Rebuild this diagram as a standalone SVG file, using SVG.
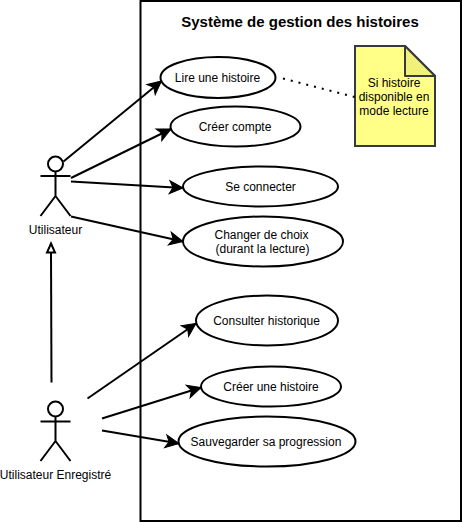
<svg xmlns="http://www.w3.org/2000/svg" width="462" height="522" viewBox="0 0 462 522">
<defs>
<marker id="arr" markerUnits="userSpaceOnUse" markerWidth="20" markerHeight="20" refX="15" refY="10" orient="auto" viewBox="0 0 20 20"><path d="M1.500 3.500L15 10L1.500 16.500L5 10Z" fill="#000" stroke="#000" stroke-linejoin="miter"/></marker>
</defs>
<style>
text{font-family:"Liberation Sans",Arial,sans-serif;font-size:12px;fill:#000;text-anchor:middle}
.e{fill:#fff;stroke:#000;stroke-width:2}
.a{fill:none;stroke:#000;stroke-width:2}
.l{fill:none;stroke:#000;stroke-width:2}
</style>
<g id="system"><rect x="140.500" y="1" width="320.500" height="520" fill="#fff" stroke="#000" stroke-width="2"/><text x="300" y="27" style="font-size:15px;font-weight:bold">Système de gestion des histoires</text></g>
<g id="uc1"><ellipse class="e" cx="218" cy="77.500" rx="57.500" ry="20.500"/><text x="217.500" y="82">Lire une histoire</text></g>
<g id="uc2"><ellipse class="e" cx="235.500" cy="126.500" rx="65" ry="20"/><text x="235" y="131">Créer compte</text></g>
<g id="uc3"><ellipse class="e" cx="260.500" cy="186.500" rx="77.500" ry="20"/><text x="260.500" y="191">Se connecter</text></g>
<g id="uc4"><ellipse class="e" cx="263" cy="241.500" rx="80" ry="25"/><text x="261.500" y="239">Changer de choix</text><text x="262.500" y="253">(durant la lecture)</text></g>
<g id="uc5"><ellipse class="e" cx="267" cy="320.500" rx="71" ry="25"/><text x="266.500" y="325">Consulter historique</text></g>
<g id="uc6"><ellipse class="e" cx="271" cy="386.500" rx="70" ry="20"/><text x="271" y="391">Créer une histoire</text></g>
<g id="uc7"><ellipse class="e" cx="267" cy="441.500" rx="88.500" ry="25"/><text x="266" y="446">Sauvegarder sa progression</text></g>
<g id="note"><path d="M355 46H405L435 76V146H355Z" fill="#ffff88" stroke="#36393d" stroke-width="2"/><path d="M405 46V76H435Z" fill="#f0f07a" stroke="#36393d" stroke-width="2" stroke-linejoin="round"/><text x="394" y="87">Si histoire</text><text x="394" y="101">disponible en</text><text x="394" y="115">mode lecture</text></g>
<g id="actor1"><circle class="e" cx="55.500" cy="164" r="7.500"/><path class="a" d="M55.500 171.500V196M40.500 176H70.500M55.500 196L40.500 216M55.500 196L70.500 216"/><text x="55.500" y="234">Utilisateur</text></g>
<g id="actor2"><circle class="e" cx="55.500" cy="409" r="7.500"/><path class="a" d="M55.500 416.500V441M40.500 421.500H70.500M55.500 441L40.500 461M55.500 441L70.500 461"/><text x="55.500" y="479">Utilisateur Enregistré</text></g>
<g id="connectors">
<path class="l" marker-end="url(#arr)" d="M63.500 161.500L161.500 81"/>
<path class="l" marker-end="url(#arr)" d="M71 178L171 129"/>
<path class="l" marker-end="url(#arr)" d="M71 181.500L183 188"/>
<path class="l" marker-end="url(#arr)" d="M71 216.500L183 241.500"/>
<path class="a" d="M51.500 382.500L51 252"/>
<path d="M51 243.500L55 252.500L47 252.500Z" fill="#fff" stroke="#000" stroke-width="2"/>
<path class="l" marker-end="url(#arr)" d="M87.500 398.500L196 323.500"/>
<path class="l" marker-end="url(#arr)" d="M102 418.500L201 387.500"/>
<path class="l" marker-end="url(#arr)" d="M102 430.500L179 443.500"/>
<path d="M283 78.500L355 97" fill="none" stroke="#000" stroke-width="2" stroke-dasharray="2 6"/>
</g>
</svg>
